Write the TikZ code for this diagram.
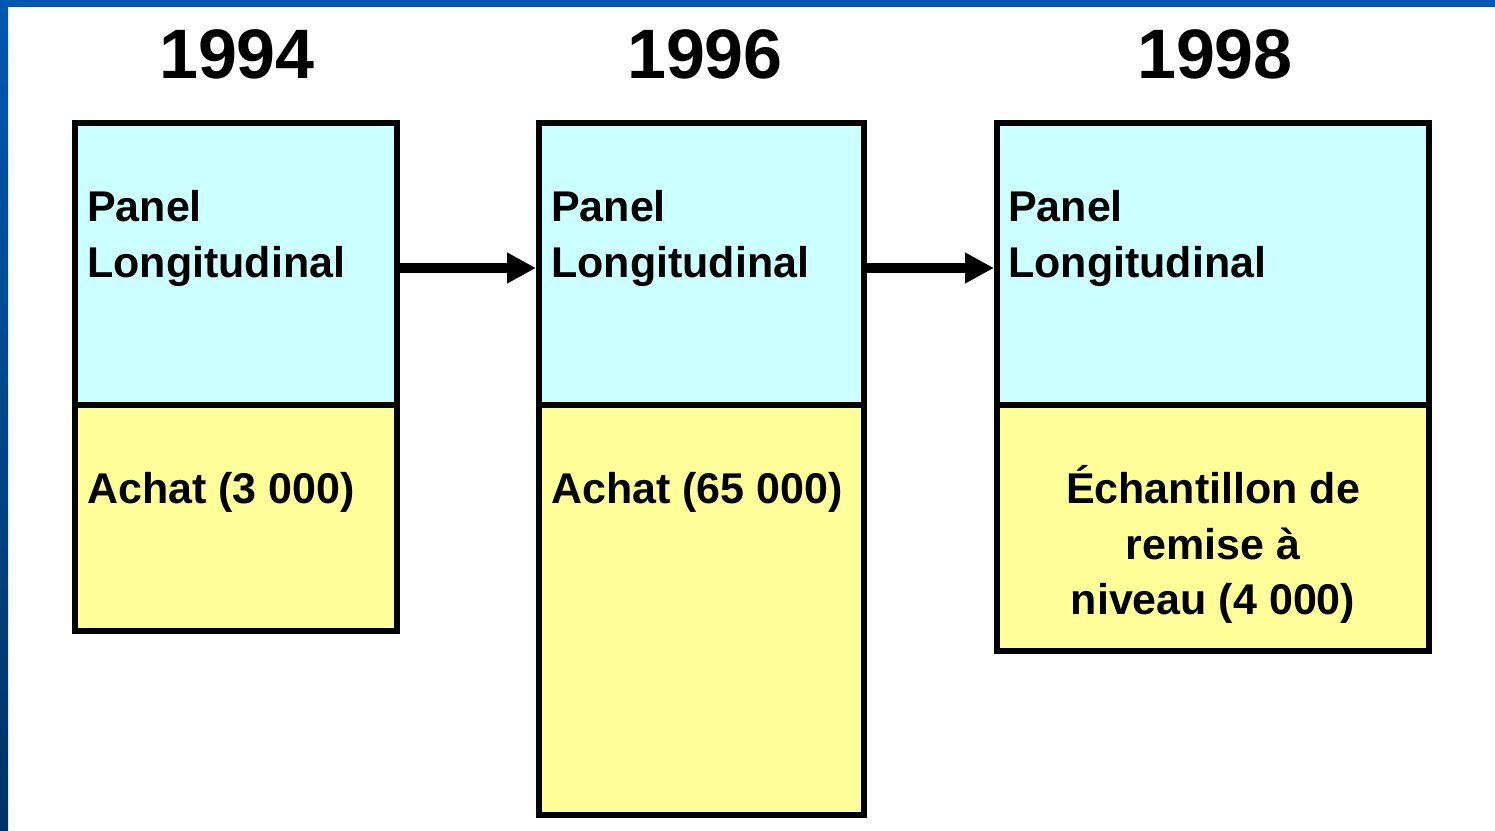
\documentclass[tikz,border=0pt]{standalone}
\usepackage{fontspec}
\setmainfont{Liberation Sans}
\usepackage{xcolor}
\usetikzlibrary{positioning,arrows.meta}

\definecolor{panelcyan}{HTML}{CCFFFF}
\definecolor{achatyellow}{HTML}{FFFF99}
\definecolor{frametop}{HTML}{0058B0}
\definecolor{framebot}{HTML}{003366}

\tikzset{
  panelbox/.style={draw=black, line width=6pt, fill=panelcyan, inner sep=0pt, outer sep=0pt, anchor=north west},
  achatbox/.style={draw=black, line width=6pt, fill=achatyellow, inner sep=0pt, outer sep=0pt, anchor=north west},
  yeartext/.style={font=\fontsize{70}{80}\selectfont\bfseries, anchor=base, inner sep=0pt},
  boxtext/.style={font=\fontsize{43}{50}\selectfont\bfseries, anchor=base west, inner sep=0pt},
  midtext/.style={font=\fontsize{43}{50}\selectfont\bfseries, anchor=base, inner sep=0pt},
  timearrow/.style={line width=10pt, -{Triangle[length=29pt,width=29pt]}, shorten >=3pt}
}

\begin{document}
\begin{tikzpicture}[x=1pt,y=-1pt]
    \useasboundingbox (0,0) rectangle (1495,830);
    % frame
    \fill[white] (0,0) rectangle (1495,830);
    \fill[frametop] (0,0) rectangle (1495,7);
    \shade[top color=frametop, bottom color=framebot] (0,0) rectangle (8,830);

    % years
    \node[yeartext] (y94) at (237,78) {1994};
    \node[yeartext] (y96) at (705,78) {1996};
    \node[yeartext] (y98) at (1215,78) {1998};

    % 1994
    \node[panelbox, minimum width=322pt, minimum height=282pt] (p94) at (75,123) {};
    \node[achatbox, minimum width=322pt, minimum height=226pt] (a94) at (p94.south west) {};
    % 1996
    \node[panelbox, minimum width=325pt, minimum height=282pt] (p96) at (539,123) {};
    \node[achatbox, minimum width=325pt, minimum height=410pt] (a96) at (p96.south west) {};
    % 1998
    \node[panelbox, minimum width=432pt, minimum height=282pt] (p98) at (997,123) {};
    \node[achatbox, minimum width=432pt, minimum height=246pt] (a98) at (p98.south west) {};

    % texts
    \node[boxtext] (t94a) at (87,221) {Panel};
    \node[boxtext] (t94b) at (87,277) {Longitudinal};
    \node[boxtext] (t94c) at (87,503) {Achat (3 000)};

    \node[boxtext] (t96a) at (551,221) {Panel};
    \node[boxtext] (t96b) at (551,277) {Longitudinal};
    \node[boxtext] (t96c) at (551,503) {Achat (65 000)};

    \node[boxtext] (t98a) at (1008,221) {Panel};
    \node[boxtext] (t98b) at (1008,277) {Longitudinal};
    \node[midtext] (t98c) at (1213,503) {Échantillon de};
    \node[midtext] (t98d) at (1213,559) {remise à};
    \node[midtext] (t98e) at (1213,614) {niveau (4 000)};

    % arrows
    \draw[timearrow] ([yshift=-4pt]p94.east) -- ([yshift=-4pt]p96.west);
    \draw[timearrow] ([yshift=-4pt]p96.east) -- ([yshift=-4pt]p98.west);
\end{tikzpicture}
\end{document}
